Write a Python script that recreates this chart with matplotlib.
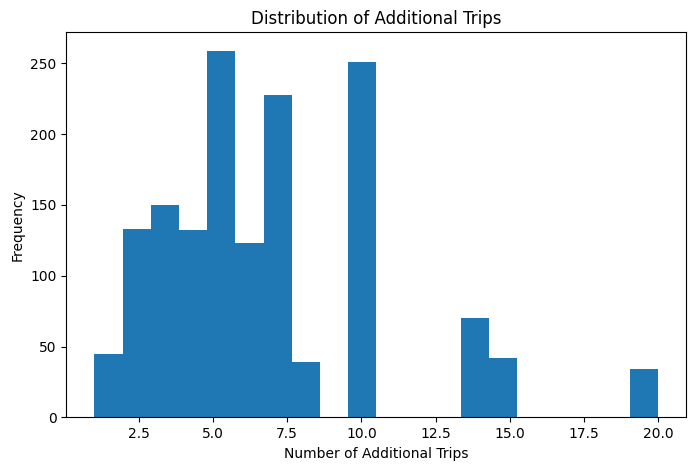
import matplotlib
matplotlib.use("Agg")
import matplotlib.pyplot as plt
import numpy as np

# Number of additional trips and how often each value occurs
trip_values = [1, 2, 3, 4, 5, 6, 7, 8, 10, 14, 15, 20]
trip_counts = [45, 133, 150, 132, 259, 123, 228, 39, 251, 70, 42, 34]

fig, ax = plt.subplots(figsize=(6.95, 4.7), dpi=100)
fig.subplots_adjust(left=0.0954, right=0.9875, top=0.9313, bottom=0.1121)

ax.hist(trip_values, bins=20, weights=trip_counts, color="#1f77b4")

ax.set_title("Distribution of Additional Trips")
ax.set_xlabel("Number of Additional Trips")
ax.set_ylabel("Frequency")

fig.savefig("out.png", dpi=100)
